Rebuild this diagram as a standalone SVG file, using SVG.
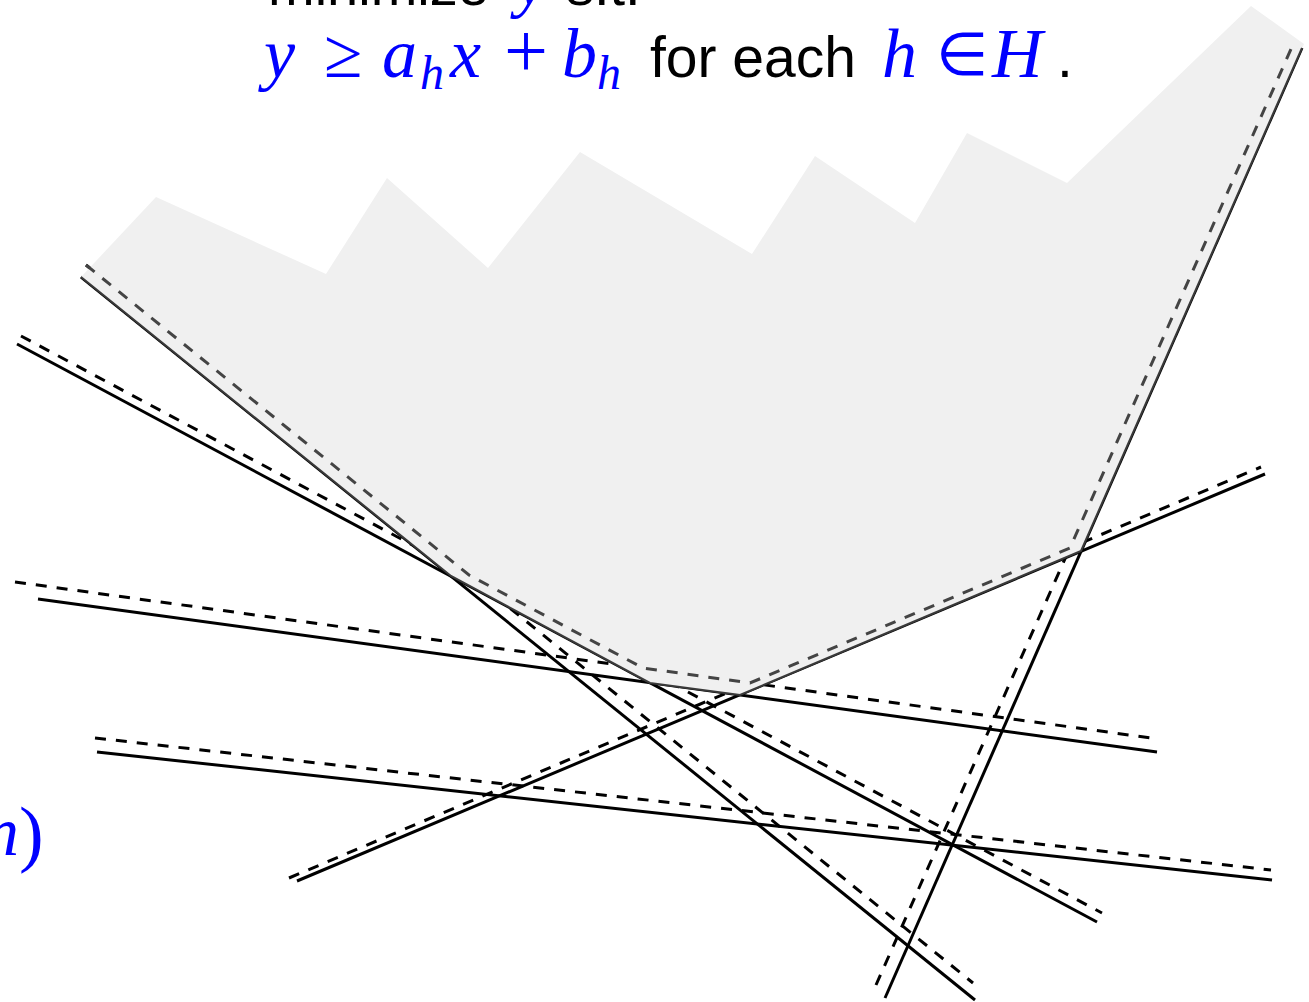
<svg xmlns="http://www.w3.org/2000/svg" width="1309" height="1002" viewBox="0 0 1309 1002">
<style>
.solid{stroke:#000;stroke-width:3;fill:none}
.dash{stroke:#000;stroke-width:3;fill:none;stroke-dasharray:11 10}
.env{stroke:#3a3a3a;stroke-width:2;fill:none}
.envd{stroke:#444;stroke-width:3;fill:none;stroke-dasharray:11 10}
.m{font-family:"Liberation Serif",serif;font-style:italic;fill:#0000ff}
.mo{font-family:"Liberation Serif",serif;fill:#0000ff}
.t{font-family:"Liberation Sans",Arial,sans-serif;fill:#000}
</style>
<rect width="1309" height="1002" fill="#fff"/>
<g id="lines">
<line class="solid" x1="81" y1="277" x2="975" y2="1000"/>
<line class="solid" x1="17" y1="344" x2="1097" y2="922"/>
<line class="solid" x1="38" y1="599" x2="1157" y2="752"/>
<line class="solid" x1="97" y1="752" x2="1272" y2="880"/>
<line class="solid" x1="297" y1="881" x2="1265" y2="474"/>
<line class="solid" x1="885" y1="998" x2="1302" y2="48"/>
<line class="dash" x1="86" y1="265" x2="973" y2="983"/>
<line class="dash" x1="21" y1="336" x2="1102" y2="913"/>
<line class="dash" x1="15" y1="582" x2="1158" y2="739"/>
<line class="dash" x1="95" y1="738" x2="1271" y2="870"/>
<line class="dash" x1="289" y1="878" x2="1261" y2="467"/>
<line class="dash" x1="876" y1="985" x2="1295" y2="40"/>
</g>
<g id="region">
<polygon fill="#f0f0f0" points="81,277 156,197 326,274 387,178 488,268 580,152 752,254 815,156 915,223 967,133 1067,183 1251,6 1304,44 1081,551 740,695 650,683 451,576"/>
<polyline class="env" points="81,277 451,576 650,683 740,695 1081,551 1302,48"/>
<polyline class="envd" points="86,265 469,575 643,668 750,683 1070,548 1295,40"/>
</g>
<g id="text">
<text class="t" x="268" y="5" font-size="56">minimize</text>
<text class="m" x="516" y="5" font-size="68">y</text>
<text class="t" x="566" y="5" font-size="56">s.t.</text>
<text class="m" x="264" y="77" font-size="70">y</text>
<text class="mo" x="324" y="77" font-size="70">≥</text>
<text class="m" x="382" y="77" font-size="70">a</text>
<text class="m" x="420" y="89" font-size="48">h</text>
<text class="m" x="450" y="77" font-size="70">x</text>
<text class="mo" x="504" y="77" font-size="78">+</text>
<text class="m" x="562" y="77" font-size="70">b</text>
<text class="m" x="597" y="89" font-size="48">h</text>
<text class="t" x="650" y="77" font-size="57">for each</text>
<text class="m" x="882" y="77" font-size="70">h</text>
<text class="mo" x="936" y="75" font-size="60">∈</text>
<text class="m" x="992" y="77" font-size="70">H</text>
<text class="t" x="1057" y="77" font-size="57">.</text>
<text class="m" x="-16" y="855" font-size="70">n</text>
<text class="mo" x="19" y="858" font-size="74">)</text>
</g>
</svg>
